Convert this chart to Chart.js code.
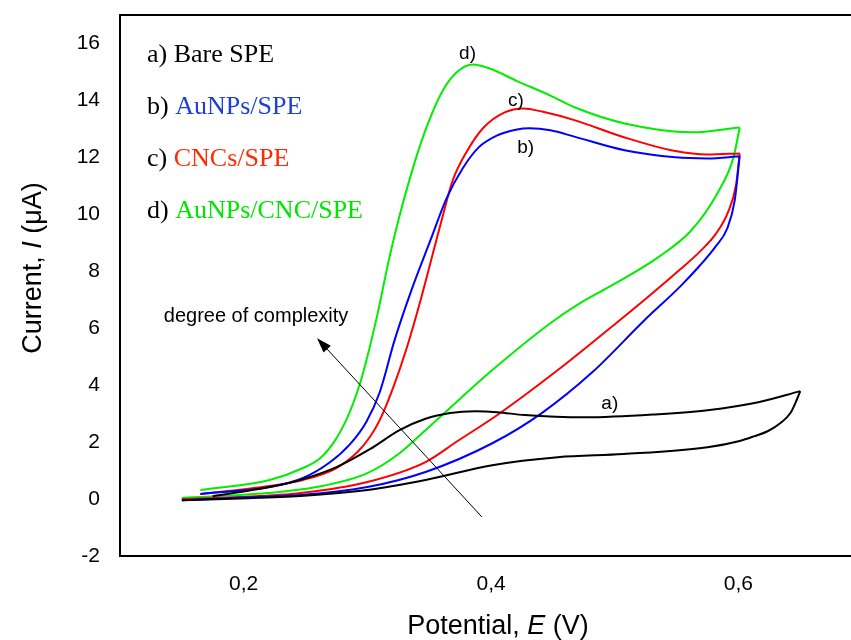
<!DOCTYPE html>
<html>
<head>
<meta charset="utf-8">
<title>Cyclic voltammograms</title>
<script src="https://cdn.jsdelivr.net/npm/chart.js@4.4.1/dist/chart.umd.min.js"></script>
<style>
  html, body { margin: 0; padding: 0; background: #fff; overflow: hidden; }
  #wrap { width: 851px; height: 640px; }
</style>
</head>
<body>
<div id="wrap"><canvas id="cvChart" width="851" height="640"></canvas></div>
<script>
// values: potential E (V) and current I (uA),
// each voltammogram split in forward sweep and reverse sweep

// a) Bare SPE
var bareFwdE = [0.175, 0.221, 0.248, 0.275, 0.302, 0.326, 0.347, 0.367, 0.387, 0.405, 0.427, 0.476, 0.535, 0.575, 0.616, 0.650];
var bareFwdI = [0.10, 0.42, 0.70, 1.12, 1.75, 2.42, 2.82, 3.02, 3.08, 3.05, 2.95, 2.87, 2.98, 3.12, 3.40, 3.79];
var bareRevE = [0.650, 0.647, 0.642, 0.634, 0.624, 0.613, 0.601, 0.575, 0.507, 0.454, 0.401, 0.347, 0.300, 0.246, 0.197, 0.150];
var bareRevI = [3.79, 3.47, 3.02, 2.67, 2.39, 2.21, 2.04, 1.82, 1.58, 1.47, 1.19, 0.67, 0.32, 0.11, 0.02, -0.04];

// b) AuNPs/SPE
var aunpsFwdE = [0.165, 0.221, 0.248, 0.270, 0.286, 0.299, 0.310, 0.322, 0.335, 0.351, 0.364, 0.377, 0.390, 0.405, 0.421, 0.431, 0.448, 0.468, 0.508, 0.549, 0.575, 0.601];
var aunpsFwdI = [0.18, 0.42, 0.74, 1.30, 1.93, 2.70, 3.75, 5.58, 7.26, 9.09, 10.56, 11.61, 12.35, 12.77, 12.98, 13.02, 12.95, 12.72, 12.25, 12.00, 11.96, 12.04];
var aunpsRevE = [0.601, 0.597, 0.591, 0.581, 0.569, 0.553, 0.524, 0.482, 0.441, 0.401, 0.347, 0.300, 0.246, 0.191, 0.150];
var aunpsRevI = [12.04, 10.49, 9.51, 8.84, 8.21, 7.47, 6.28, 4.46, 3.02, 1.96, 0.95, 0.42, 0.14, 0.04, -0.04];

// c) CNCs/SPE
var cncFwdE = [0.165, 0.221, 0.248, 0.275, 0.292, 0.302, 0.310, 0.321, 0.332, 0.343, 0.353, 0.360, 0.369, 0.381, 0.394, 0.411, 0.426, 0.442, 0.468, 0.508, 0.549, 0.575, 0.601];
var cncFwdI = [0.18, 0.46, 0.67, 1.09, 1.65, 2.18, 2.77, 3.93, 5.33, 6.98, 8.63, 9.79, 11.19, 12.25, 13.05, 13.58, 13.72, 13.60, 13.30, 12.70, 12.22, 12.10, 12.14];
var cncRevE = [0.601, 0.598, 0.5915, 0.582, 0.569, 0.553, 0.5285, 0.502, 0.454, 0.406, 0.373, 0.347, 0.300, 0.246, 0.197, 0.150];
var cncRevI = [12.14, 11.02, 10.07, 9.33, 8.70, 8.07, 7.16, 6.21, 4.53, 2.98, 2.04, 1.30, 0.60, 0.21, 0.07, 0.00];

// d) AuNPs/CNC/SPE
var mixFwdE = [0.165, 0.221, 0.248, 0.262, 0.274, 0.284, 0.290, 0.296, 0.308, 0.317, 0.324, 0.337, 0.349, 0.361, 0.372, 0.385, 0.399, 0.421, 0.448, 0.468, 0.508, 0.562, 0.601];
var mixFwdI = [0.32, 0.67, 1.09, 1.44, 2.07, 2.88, 3.54, 4.35, 6.46, 8.32, 9.61, 11.65, 13.19, 14.35, 14.98, 15.26, 15.12, 14.68, 14.17, 13.75, 13.19, 12.88, 13.05];
var mixRevE = [0.601, 0.596, 0.583, 0.562, 0.535, 0.495, 0.472, 0.449, 0.401, 0.363, 0.347, 0.326, 0.300, 0.259, 0.219, 0.150];
var mixRevI = [13.05, 12.00, 10.74, 9.44, 8.49, 7.44, 6.88, 6.21, 4.53, 3.05, 2.42, 1.61, 0.91, 0.42, 0.21, 0.04];

var xTicks = [0.2, 0.4, 0.6];
var yTicks = [-2, 0, 2, 4, 6, 8, 10, 12, 14, 16];

// key in the top left corner
var keyTags = ['a)', 'b)', 'c)', 'd)'];
var keyNames = ['Bare SPE', 'AuNPs/SPE', 'CNCs/SPE', 'AuNPs/CNC/SPE'];
var keyColors = ['#000000', '#1d3fd6', '#ff2a00', '#00e600'];

// letters next to the curves
var tagText = ['a)', 'b)', 'c)', 'd)'];
var tagE = [0.496, 0.428, 0.420, 0.381];
var tagI = [3.33, 12.32, 14.00, 15.65];

// "degree of complexity" arrow (tail -> head)
var arrowE = [0.3926, 0.2593];
var arrowI = [-0.63, 5.65];

var curveColors = ['#000000', '#0000ff', '#ff0000', '#00ee00'];

function toPoints(es, is) {
    var out = [];
    for (var i = 0; i < es.length; i++) {
        out.push({x: es[i], y: is[i]});
    }
    return out;
}

function branch(es, is, color) {
    return {
        data: toPoints(es, is),
        borderColor: color,
        backgroundColor: color,
        borderWidth: 2,
        pointRadius: 0,
        showLine: true,
        fill: false,
        cubicInterpolationMode: 'monotone'
    };
}

function drawMixed(c, parts, font, cx, cy) {
    var total = 0;
    c.textAlign = 'left';
    c.textBaseline = 'alphabetic';
    for (var i = 0; i < parts.length; i++) {
        c.font = (parts[i].it ? 'italic ' : '') + font;
        parts[i].w = c.measureText(parts[i].t).width;
        total += parts[i].w;
    }
    var x = cx - total / 2;
    for (var j = 0; j < parts.length; j++) {
        c.font = (parts[j].it ? 'italic ' : '') + font;
        c.fillText(parts[j].t, x, cy);
        x += parts[j].w;
    }
}

var annotations = {
    id: 'annotations',
    afterDraw: function(chart) {
        var c = chart.ctx;
        var xs = chart.scales.x, ys = chart.scales.y, area = chart.chartArea;
        c.save();

        // key
        c.textAlign = 'left';
        c.textBaseline = 'alphabetic';
        c.font = '26px "Liberation Serif", "Times New Roman", serif';
        for (var k = 0; k < keyTags.length; k++) {
            var ky = area.top + 47 + k * 52;
            var kx = area.left + 27;
            c.fillStyle = '#000';
            c.fillText(keyTags[k] + ' ', kx, ky);
            var w = c.measureText(keyTags[k] + ' ').width;
            c.fillStyle = keyColors[k];
            c.fillText(keyNames[k], kx + w, ky);
        }

        // curve letters
        c.fillStyle = '#000';
        c.textAlign = 'center';
        c.textBaseline = 'middle';
        c.font = '19px "Liberation Sans", Arial, sans-serif';
        for (var t = 0; t < tagText.length; t++) {
            c.fillText(tagText[t], xs.getPixelForValue(tagE[t]), ys.getPixelForValue(tagI[t]));
        }

        // arrow
        var x0 = xs.getPixelForValue(arrowE[0]), y0 = ys.getPixelForValue(arrowI[0]);
        var x1 = xs.getPixelForValue(arrowE[1]), y1 = ys.getPixelForValue(arrowI[1]);
        var ang = Math.atan2(y1 - y0, x1 - x0);
        c.strokeStyle = '#000';
        c.lineWidth = 1;
        c.beginPath();
        c.moveTo(x0, y0);
        c.lineTo(x1 - 8 * Math.cos(ang), y1 - 8 * Math.sin(ang));
        c.stroke();
        c.beginPath();
        c.moveTo(x1, y1);
        c.lineTo(x1 - 15 * Math.cos(ang) + 5 * Math.sin(ang), y1 - 15 * Math.sin(ang) - 5 * Math.cos(ang));
        c.lineTo(x1 - 15 * Math.cos(ang) - 5 * Math.sin(ang), y1 - 15 * Math.sin(ang) + 5 * Math.cos(ang));
        c.closePath();
        c.fill();

        c.textBaseline = 'alphabetic';
        c.font = '20px "Liberation Sans", Arial, sans-serif';
        c.fillText('degree of complexity', xs.getPixelForValue(0.21), ys.getPixelForValue(6.21));

        // axis titles
        var titleFont = '27px "Liberation Sans", Arial, sans-serif';
        drawMixed(c, [{t: 'Potential, '}, {t: 'E', it: true}, {t: ' (V)'}], titleFont, 498, 634);

        c.translate(41, 268);
        c.rotate(-Math.PI / 2);
        drawMixed(c, [{t: 'Current, '}, {t: 'I', it: true}, {t: ' (\u03bcA)'}], titleFont, 0, 0);

        c.restore();
    }
};

var tickFont = {family: '"Liberation Sans", Arial, sans-serif', size: 21};

function noPad(s) {
    s.paddingTop = 0;
    s.paddingBottom = 0;
    s.paddingLeft = 0;
    s.paddingRight = 0;
}

var ctx = document.getElementById('cvChart').getContext('2d');
var chart = new Chart(ctx, {
    type: 'scatter',
    data: {
        datasets: [
            branch(bareFwdE, bareFwdI, curveColors[0]),
            branch(bareRevE, bareRevI, curveColors[0]),
            branch(aunpsFwdE, aunpsFwdI, curveColors[1]),
            branch(aunpsRevE, aunpsRevI, curveColors[1]),
            branch(cncFwdE, cncFwdI, curveColors[2]),
            branch(cncRevE, cncRevI, curveColors[2]),
            branch(mixFwdE, mixFwdI, curveColors[3]),
            branch(mixRevE, mixRevI, curveColors[3])
        ]
    },
    options: {
        responsive: false,
        animation: false,
        devicePixelRatio: 1,
        layout: {padding: 0},
        plugins: {
            legend: {display: false},
            tooltip: {enabled: false}
        },
        scales: {
            x: {
                type: 'linear',
                position: 'bottom',
                min: 0.1,
                max: 0.691,
                grid: {display: false, drawTicks: false},
                border: {display: true, color: '#000', width: 2},
                ticks: {
                    font: tickFont,
                    color: '#000',
                    padding: 16,
                    maxRotation: 0,
                    callback: function(v) { return v.toFixed(1).replace('.', ','); }
                },
                afterBuildTicks: function(s) { s.ticks = xTicks.map(function(v) { return {value: v}; }); },
                afterFit: function(s) { s.height = 84; noPad(s); }
            },
            xTop: {
                type: 'linear',
                position: 'top',
                min: 0.1,
                max: 0.691,
                grid: {display: false, drawTicks: false},
                border: {display: true, color: '#000', width: 2},
                ticks: {display: false},
                afterFit: function(s) { s.height = 15; noPad(s); }
            },
            y: {
                type: 'linear',
                min: -2,
                max: 17,
                grid: {display: false, drawTicks: false},
                border: {display: true, color: '#000', width: 2},
                ticks: {
                    font: tickFont,
                    color: '#000',
                    padding: 20,
                    callback: function(v) { return String(v); }
                },
                afterBuildTicks: function(s) { s.ticks = yTicks.map(function(v) { return {value: v}; }); },
                afterFit: function(s) { s.width = 120; noPad(s); }
            }
        }
    },
    plugins: [annotations]
});
</script>
</body>
</html>
